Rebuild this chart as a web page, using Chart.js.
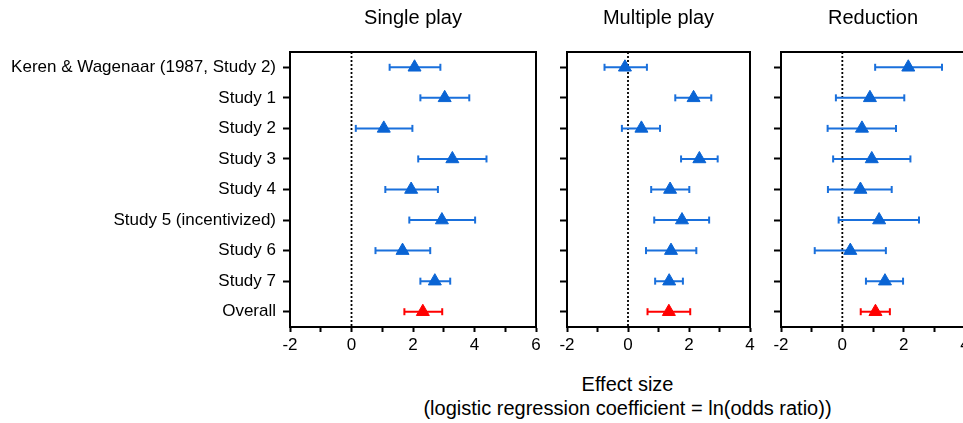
<!DOCTYPE html>
<html>
<head>
<meta charset="utf-8">
<script src="https://cdn.jsdelivr.net/npm/chart.js@4/dist/chart.umd.min.js"></script>
<style>
  html, body { margin: 0; padding: 0; background: #fff; }
  body { width: 963px; height: 423px; overflow: hidden; position: relative; font-family: "Liberation Sans", Arial, sans-serif; }
  canvas { position: absolute; top: 0; }
  .axt { position: absolute; left: 290px; width: 675px; text-align: center; font-size: 20px; line-height: 23px; color: #000; white-space: nowrap; }
</style>
</head>
<body>
<canvas id="c1" width="550" height="360" style="left:0px"></canvas>
<canvas id="c2" width="214" height="360" style="left:550px"></canvas>
<canvas id="c3" width="215" height="360" style="left:764px"></canvas>
<div class="axt" style="top:373px">Effect size</div>
<div class="axt" style="top:397px">(logistic regression coefficient = ln(odds ratio))</div>
<script>
// ---- data ----
const categories = ["Keren & Wagenaar (1987, Study 2)", "Study 1", "Study 2", "Study 3", "Study 4",
                    "Study 5 (incentivized)", "Study 6", "Study 7", "Overall"];
const panelTitles = ["Single play", "Multiple play", "Reduction"];
const xRanges = [[-2, 6], [-2, 4], [-2, 4]];

const singleMean = [2.05, 3.03, 1.05, 3.28, 1.94, 2.94, 1.66, 2.71, 2.32];
const singleLow  = [1.24, 2.24, 0.14, 2.17, 1.10, 1.88, 0.78, 2.24, 1.72];
const singleHigh = [2.89, 3.83, 1.98, 4.39, 2.81, 4.02, 2.56, 3.21, 2.95];

const multiMean = [-0.10, 2.15, 0.44, 2.34, 1.38, 1.77, 1.41, 1.35, 1.34];
const multiLow  = [-0.77, 1.55, -0.20, 1.74, 0.76, 0.86, 0.59, 0.89, 0.64];
const multiHigh = [0.62, 2.73, 1.05, 2.94, 2.01, 2.66, 2.24, 1.80, 2.04];

const reducMean = [2.15, 0.90, 0.64, 0.96, 0.59, 1.20, 0.26, 1.39, 1.08];
const reducLow  = [1.07, -0.21, -0.48, -0.30, -0.47, -0.12, -0.90, 0.77, 0.60];
const reducHigh = [3.25, 2.02, 1.75, 2.22, 1.61, 2.50, 1.42, 1.98, 1.55];

// ---- style ----
const FONT = '"Liberation Sans", Arial, sans-serif';
const BLUE = '#0a64d4';
const BLUE_LINE = '#1a70dc';
const RED = '#ff0000';
const overallIndex = categories.length - 1;

function buildDatasets(mean, low, high) {
  const groups = [
    { idx: categories.map((_, i) => i).filter(i => i !== overallIndex), color: BLUE, line: BLUE_LINE },
    { idx: [overallIndex], color: RED, line: RED }
  ];
  const ds = [];
  // zero reference line
  ds.push({
    data: [{ x: 0, y: -0.5 }, { x: 0, y: categories.length - 0.5 }],
    borderColor: '#000', borderWidth: 1.8, borderDash: [2, 2], pointRadius: 0, showLine: true, order: 5
  });
  groups.forEach(g => {
    const wh = [];
    g.idx.forEach(i => { wh.push({ x: low[i], y: i }, { x: high[i], y: i }, { x: high[i], y: null }); });
    ds.push({ data: wh, borderColor: g.line, borderWidth: 2, pointRadius: 0, showLine: true, spanGaps: false, order: 3 });
    const caps = [];
    g.idx.forEach(i => { caps.push({ x: low[i], y: i }, { x: high[i], y: i }); });
    ds.push({ data: caps, showLine: false, pointStyle: 'line', rotation: 90, pointRadius: 3.5,
              borderColor: g.line, pointBorderWidth: 2, pointBackgroundColor: g.line, order: 2 });
    ds.push({ data: g.idx.map(i => ({ x: mean[i], y: i })), showLine: false, pointStyle: 'triangle',
              pointRadius: 7.5, pointBorderWidth: 1, pointBackgroundColor: g.color, pointBorderColor: g.color, order: 1 });
  });
  return ds;
}

function makeChart(id, p, mean, low, high, leftWidth, showLabels) {
  const [xmin, xmax] = xRanges[p];
  return new Chart(document.getElementById(id), {
    type: 'scatter',
    data: { datasets: buildDatasets(mean, low, high) },
    options: {
      responsive: false, animation: false, events: [],
      layout: { padding: 0 },
      plugins: { legend: { display: false }, tooltip: { enabled: false } },
      scales: {
        x: {
          type: 'linear', position: 'bottom', min: xmin, max: xmax,
          afterBuildTicks: s => { const t = []; for (let v = xmin; v <= xmax; v++) t.push({ value: v }); s.ticks = t; },
          afterFit: s => { s.height = 33; },
          ticks: { color: '#000', font: { family: FONT, size: 17 }, padding: 3, maxRotation: 0, autoSkip: false,
                   callback: v => (v % 2 === 0 ? String(v) : '') },
          grid: { drawOnChartArea: false, drawTicks: true, tickLength: 5, tickColor: '#000', tickWidth: 2 },
          border: { display: true, color: '#000', width: 2 }
        },
        xTop: {
          type: 'linear', position: 'top', min: xmin, max: xmax,
          afterFit: s => { s.height = 52; },
          ticks: { display: false },
          grid: { display: false, drawTicks: false },
          border: { display: true, color: '#000', width: 2 },
          title: { display: true, text: panelTitles[p], color: '#000', font: { family: FONT, size: 20 }, padding: { top: 6, bottom: 0 } }
        },
        y: {
          type: 'linear', position: 'left', reverse: true, min: -0.5, max: categories.length - 0.5,
          afterBuildTicks: s => { s.ticks = categories.map((_, i) => ({ value: i })); },
          afterFit: s => { s.width = leftWidth; },
          ticks: { color: '#000', font: { family: FONT, size: 17 }, padding: 7, autoSkip: false,
                   callback: v => (showLabels ? categories[v] : '') },
          grid: { drawOnChartArea: false, drawTicks: true, tickLength: 7, tickColor: '#000', tickWidth: 2 },
          border: { display: true, color: '#000', width: 2 }
        },
        yRight: {
          type: 'linear', position: 'right', min: -0.5, max: categories.length - 0.5,
          afterFit: s => { s.width = 14; },
          ticks: { display: false },
          grid: { display: false, drawTicks: false },
          border: { display: true, color: '#000', width: 2 }
        }
      }
    }
  });
}

makeChart('c1', 0, singleMean, singleLow, singleHigh, 290, true);
makeChart('c2', 1, multiMean, multiLow, multiHigh, 17, false);
makeChart('c3', 2, reducMean, reducLow, reducHigh, 17, false);
</script>
</body>
</html>
